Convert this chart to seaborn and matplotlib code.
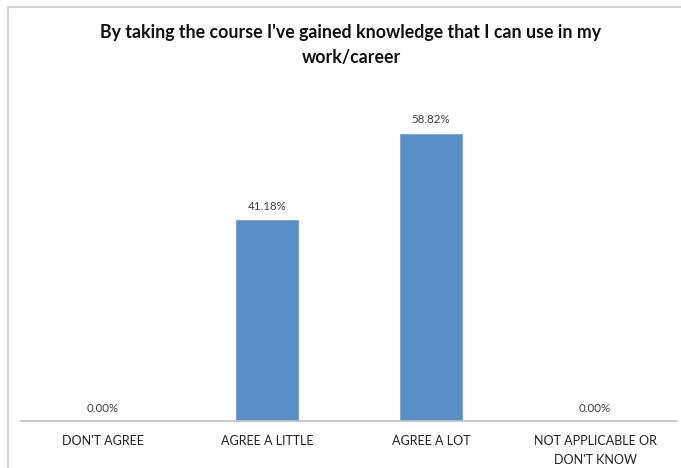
import matplotlib
matplotlib.use('Agg')
import matplotlib.pyplot as plt
from matplotlib.lines import Line2D
import seaborn as sns
import pandas as pd

categories = ["DON'T AGREE", "AGREE A LITTLE", "AGREE A LOT", "NOT APPLICABLE OR\nDON'T KNOW"]
percent = [0.00, 41.18, 58.82, 0.00]
title = "By taking the course I've gained knowledge that I can use in my\nwork/career"

sns.set_style("white")
plt.rcParams['font.family'] = ['Lato', 'DejaVu Sans']

df = pd.DataFrame({'answer': categories, 'pct': percent})

fig = plt.figure(figsize=(6.81, 4.68), dpi=100)
ax = fig.add_axes([21/681, 47/468, 656/681, 343/468])

sns.barplot(data=df, x='answer', y='pct', color='#5A8EC6', width=0.39,
            saturation=1, ax=ax)

# value labels
for i, v in enumerate(percent):
    ax.text(i, v + 1.5, '%.2f%%' % v, ha='center', va='bottom', fontsize=8.3, color='#404040')

ax.set_ylim(0, 70)
ax.set_xlim(-0.5, 3.5)
ax.set_xlabel('')
ax.set_ylabel('')
ax.set_yticks([])
ax.tick_params(axis='x', length=0, pad=10, labelsize=9, colors='#222222')
for lab in ax.get_xticklabels():
    lab.set_linespacing(1.7)
for s in ['top', 'right', 'left']:
    ax.spines[s].set_visible(False)
ax.spines['bottom'].set_color('#BFBFBF')
ax.spines['bottom'].set_linewidth(1.2)

fig.text(351/681, 1 - 45/468, title, ha='center', va='center', fontsize=12.8,
         fontweight='bold', color='#111111', linespacing=1.6)

# outer frame of the chart (top and left edges only visible)
fig.add_artist(Line2D([8/681, 8/681], [0, 1 - 7/468], transform=fig.transFigure,
                      color='#D3D3D3', linewidth=1.5))
fig.add_artist(Line2D([8/681, 1], [1 - 7/468, 1 - 7/468], transform=fig.transFigure,
                      color='#D3D3D3', linewidth=1.5))

fig.savefig('out.png', dpi=100)
